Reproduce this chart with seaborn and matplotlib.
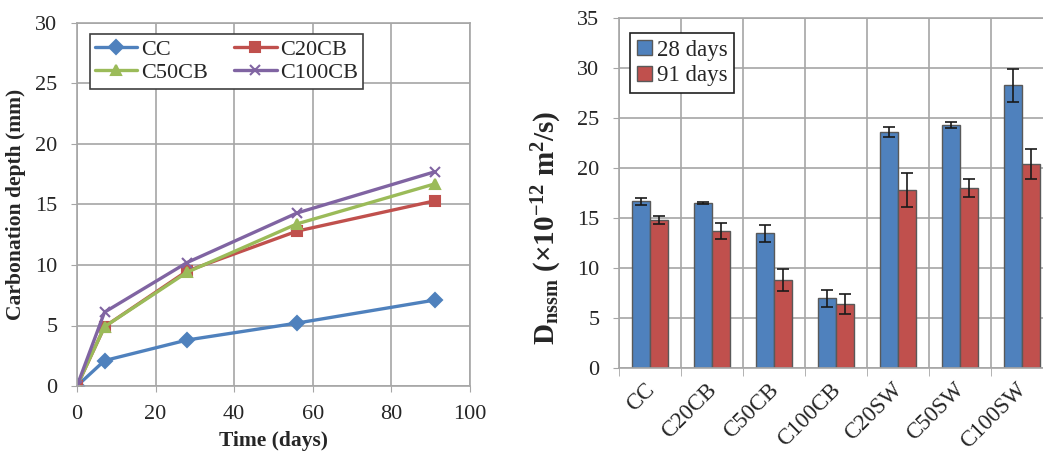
import matplotlib
matplotlib.use("Agg")
import matplotlib.pyplot as plt
import matplotlib.transforms as mtransforms
import pandas as pd
import seaborn as sns

# carbonation depth vs time
days = [0, 7, 28, 56, 91]
cc = [0, 2.1, 3.8, 5.2, 7.1]
c20cb = [0, 4.9, 9.5, 12.8, 15.3]
c50cb = [0, 4.9, 9.4, 13.4, 16.7]
c100cb = [0, 6.1, 10.2, 14.3, 17.7]

# chloride migration coefficient
mixes = ["CC", "C20CB", "C50CB", "C100CB", "C20SW", "C50SW", "C100SW"]
d28 = [16.7, 16.5, 13.5, 7.0, 23.6, 24.3, 28.3]
d28_err = [0.35, 0.13, 0.85, 0.85, 0.5, 0.32, 1.65]
d91 = [14.8, 13.7, 8.85, 6.4, 17.8, 18.0, 20.4]
d91_err = [0.4, 0.77, 1.1, 1.0, 1.7, 0.87, 1.5]

blue = "#4F81BD"
red = "#C0504D"
green = "#9BBB59"
purple = "#8064A2"
grid_c = "#A6A6A6"

sns.set_style("white")
plt.rcParams['font.family'] = ['Liberation Serif', 'DejaVu Serif']
plt.rcParams['mathtext.fontset'] = 'custom'
plt.rcParams['mathtext.rm'] = 'Liberation Serif:bold'
plt.rcParams['mathtext.bf'] = 'Liberation Serif:bold'
plt.rcParams['mathtext.default'] = 'bf'

fig = plt.figure(figsize=(10.43, 4.51), dpi=100)
W, H = 1043, 451
ax1 = fig.add_axes([77 / W, 1 - 386 / H, (470 - 77) / W, (386 - 23) / H])
ax2 = fig.add_axes([619 / W, 1 - 368 / H, (1053 - 619) / W, (368 - 18) / H])

# ---- left: line chart
series = [("CC", cc, blue, "D"), ("C20CB", c20cb, red, "s"),
          ("C50CB", c50cb, green, "^"), ("C100CB", c100cb, purple, "x")]
for name, vals, col, mk in series:
    sns.lineplot(x=days, y=vals, color=col, marker=mk, label=name,
                 linewidth=2.4, markersize=7.5, markeredgewidth=1.5,
                 markeredgecolor=col, ax=ax1)

ax1.set_xlim(0, 100)
ax1.set_ylim(0, 30)
ax1.set_xticks(range(0, 101, 20))
ax1.set_yticks(range(0, 31, 5))
ax1.grid(True, color=grid_c, linewidth=1.2)
ax1.set_axisbelow(True)
for s in ax1.spines.values():
    s.set_color(grid_c)
    s.set_linewidth(1.2)
ax1.tick_params(axis="both", labelsize=16, length=4, color=grid_c,
                direction="out", left=True, bottom=True)
ax1.tick_params(axis="y", pad=10)
ax1.tick_params(axis="x", pad=10)
ax1.set_xlabel("Time (days)", fontsize=15.5, fontweight="bold", labelpad=5)
ax1.set_ylabel("Carbonation depth (mm)", fontsize=15.5, fontweight="bold", labelpad=7)
h, l = ax1.get_legend_handles_labels()
idx = [0, 2, 1, 3]
ax1.legend([h[i] for i in idx], [l[i] for i in idx], ncol=2, loc="upper left",
           bbox_to_anchor=(0.004, 1.0),
           fontsize=16, frameon=True, fancybox=False, edgecolor="#404040",
           handlelength=1.9, handletextpad=0.15, columnspacing=1.2,
           borderpad=0.25, labelspacing=0.1, framealpha=1)
ax1.get_legend().get_frame().set_linewidth(1.2)

# ---- right: bar chart
bar_df = pd.DataFrame({
    "mix": mixes * 2,
    "value": d28 + d91,
    "age": ["28 days"] * 7 + ["91 days"] * 7,
})
sns.barplot(data=bar_df, x="mix", y="value", hue="age", order=mixes,
            hue_order=["28 days", "91 days"], palette=[blue, red],
            width=0.58, edgecolor="#595959", linewidth=1.0,
            errorbar=None, saturation=1, ax=ax2)
for cont, errs in zip(ax2.containers, [d28_err, d91_err]):
    xs = [p.get_x() + p.get_width() / 2 for p in cont.patches]
    ys = [p.get_height() for p in cont.patches]
    ax2.errorbar(xs, ys, yerr=errs, fmt="none", ecolor="#1a1a1a",
                 elinewidth=1.2, capsize=4.5, capthick=1.2, zorder=5)

ax2.set_xlim(-0.5, 6.5)
ax2.set_ylim(0, 35)
ax2.set_yticks(range(0, 36, 5))
ax2.set_xticks([i + 0.5 for i in range(-1, 7)], minor=True)
ax2.grid(True, axis="y", color=grid_c, linewidth=1.2)
ax2.grid(True, axis="x", which="minor", color=grid_c, linewidth=1.2)
ax2.grid(False, axis="x", which="major")
ax2.set_axisbelow(True)
for s in ax2.spines.values():
    s.set_color(grid_c)
    s.set_linewidth(1.2)
ax2.tick_params(axis="y", labelsize=16, length=4, color=grid_c,
                direction="out", left=True, pad=10)
ax2.tick_params(axis="x", which="major", labelsize=16.5, length=0, pad=8,
                labelrotation=45)
ax2.tick_params(axis="x", which="minor", length=6, color=grid_c,
                direction="out", bottom=True)
shift = mtransforms.ScaledTranslation(-6 / 100, 0, fig.dpi_scale_trans)
for t in ax2.get_xticklabels():
    t.set_ha("right")
    t.set_rotation_mode("anchor")
    t.set_transform(t.get_transform() + shift)
ax2.set_xlabel("")
ax2.set_ylabel("D$_{nssm}$ (×10$^{-12}$ m$^{2}$/s)", fontsize=21,
               fontweight="bold")
ax2.yaxis.set_label_coords(-0.127, 0.40)
ax2.legend(loc="upper left", bbox_to_anchor=(0.0, 0.99), fontsize=16.5,
           frameon=True, fancybox=False, edgecolor="#202020",
           handlelength=0.65, handleheight=0.65, handletextpad=0.2,
           borderpad=0.3, labelspacing=0.2, framealpha=1)
ax2.get_legend().get_frame().set_linewidth(1.2)

fig.savefig("out.png", dpi=100)
